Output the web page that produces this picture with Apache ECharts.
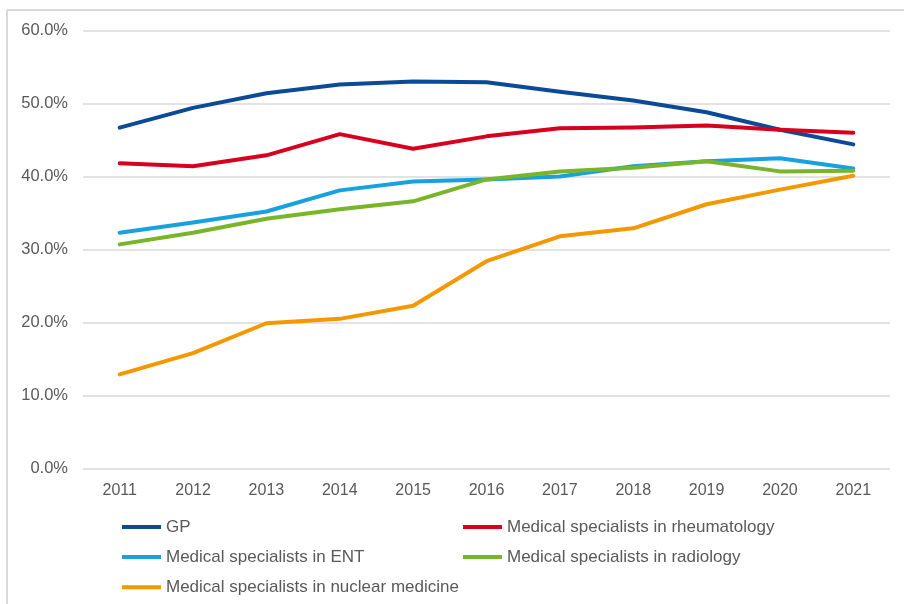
<!DOCTYPE html>
<html>
<head>
<meta charset="utf-8">
<script src="https://cdn.jsdelivr.net/npm/echarts@6/dist/echarts.min.js"></script>
<style>html,body{margin:0;padding:0;background:#fff;}#c{width:904px;height:604px;}</style>
</head>
<body>
<div id="c"></div>
<script>
var years = ['2011','2012','2013','2014','2015','2016','2017','2018','2019','2020','2021'];
var gp = [46.7, 49.4, 51.4, 52.6, 53.0, 52.9, 51.6, 50.4, 48.8, 46.4, 44.4];
var rheumatology = [41.8, 41.4, 42.9, 45.8, 43.8, 45.5, 46.6, 46.7, 47.0, 46.4, 46.0];
var ent = [32.3, 33.7, 35.2, 38.1, 39.3, 39.6, 40.0, 41.4, 42.1, 42.5, 41.1];
var radiology = [30.7, 32.3, 34.2, 35.5, 36.6, 39.6, 40.7, 41.2, 42.1, 40.7, 40.8];
var nuclear = [12.9, 15.8, 19.9, 20.5, 22.3, 28.4, 31.8, 32.9, 36.2, 38.2, 40.1];
var names = ['GP','Medical specialists in rheumatology','Medical specialists in ENT','Medical specialists in radiology','Medical specialists in nuclear medicine'];
var colors = ['#0B4A97','#D7001F','#19A0DF','#78B52A','#F39800'];
var dataSets = [gp, rheumatology, ent, radiology, nuclear];

var legendPos = [[122,518.5],[463,518.5],[122,548.5],[463,548.5],[122,578.8]];
var legends = names.map(function(n,i){
  return {
    data:[n], left: legendPos[i][0], top: legendPos[i][1], padding:0,
    icon:'rect', itemWidth:39, itemHeight:4,
    textStyle:{color:'#595959', fontSize:17, fontFamily:'Liberation Sans, Arial, sans-serif'},
    selectedMode:false
  };
});

var chart = echarts.init(document.getElementById('c'), null, {renderer:'canvas'});
chart.setOption({
  animation:false,
  backgroundColor:'#ffffff',
  color: colors,
  textStyle:{fontFamily:'Liberation Sans, Arial, sans-serif'},
  grid:{left:83, right:14, top:30.5, bottom:135.5, containLabel:false},
  legend: legends,
  graphic:[
    {type:'line', shape:{x1:7, y1:10, x2:904, y2:10}, style:{stroke:'#D9D9D9', lineWidth:2}, silent:true},
    {type:'line', shape:{x1:7, y1:10, x2:7, y2:604}, style:{stroke:'#D9D9D9', lineWidth:2}, silent:true}
  ],
  xAxis:{
    type:'category', data: years, boundaryGap:true,
    axisLine:{show:false}, axisTick:{show:false},
    axisLabel:{color:'#595959', fontSize:16, margin:14}
  },
  yAxis:{
    type:'value', min:0, max:60, interval:10,
    axisLine:{show:false}, axisTick:{show:false},
    splitLine:{lineStyle:{color:'#D9D9D9', width:1.5}},
    axisLabel:{color:'#595959', fontSize:16.5, margin:15, formatter:function(v){return v.toFixed(1)+'%';}}
  },
  series: dataSets.map(function(d,i){
    return {name:names[i], type:'line', data:d, symbol:'none', smooth:false,
      lineStyle:{width:4, color:colors[i], cap:'round', join:'round'},
      itemStyle:{color:colors[i]}};
  })
});
</script>
</body>
</html>
